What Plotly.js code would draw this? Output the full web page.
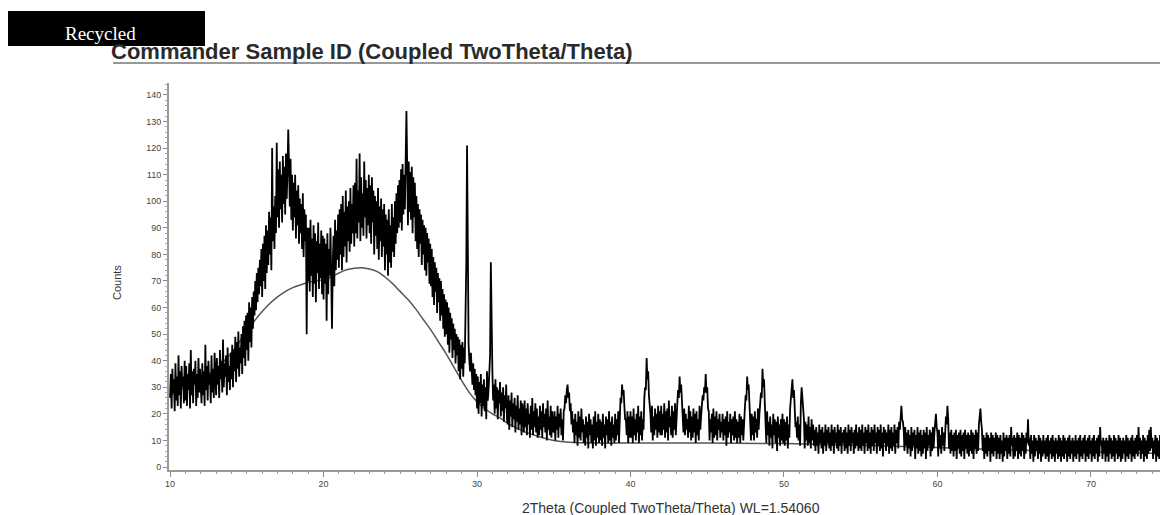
<!DOCTYPE html>
<html>
<head>
<meta charset="utf-8">
<script src="https://cdn.plot.ly/plotly-3.0.1.min.js"></script>
<style>html,body{margin:0;padding:0;background:#fff;}#chart{width:1160px;height:515px;}</style>
</head>
<body>
<div id="chart"></div>
<script>
// Scan settings (2Theta start and step of the measured pattern)
const twoThetaStart = 10;
const twoThetaStep = 0.05;

// Measured counts, one row per degree (10.00 ... 74.50, step 0.05)
const counts = [
  26,35,22,37,28,33,21,39,25,34,23,42,27,36,22,38,30,34,24,40,
  25,38,23,35,29,39,22,44,27,36,24,37,31,40,23,35,26,41,28,37,
  30,24,39,27,36,23,46,29,38,25,40,31,35,24,42,28,37,26,43,30,
  27,41,31,38,26,44,33,40,28,48,30,39,34,42,27,45,32,38,29,43,
  33,46,30,44,36,49,32,47,37,51,34,45,39,50,35,53,41,55,38,57,
  44,58,40,62,47,60,45,64,52,66,57,70,59,73,62,75,65,78,68,82,
  64,84,70,87,67,91,73,89,76,96,80,94,74,120,85,98,82,102,88,122,
  94,112,90,115,97,110,92,117,99,113,95,118,101,111,127,114,98,116,93,110,
  89,107,94,110,86,104,91,106,84,101,88,99,82,103,79,97,85,95,50,90,
  70,90,66,93,72,86,64,91,69,88,62,85,73,92,67,84,71,89,65,87,
  63,86,69,84,55,88,65,82,72,90,60,52,76,87,68,93,74,89,78,95,
  75,97,80,99,74,102,79,96,83,104,77,98,85,100,81,105,84,99,88,106,
  83,107,88,116,86,104,92,118,85,109,90,103,87,115,94,108,86,105,91,110,
  88,106,84,109,92,104,80,102,87,100,82,105,78,98,85,101,79,97,83,99,
  74,95,80,93,72,97,77,91,75,99,81,94,79,100,84,103,88,106,90,108,
  92,112,89,114,95,110,97,116,134,113,91,115,96,111,93,113,88,109,94,107,
  85,102,82,99,79,97,84,95,76,93,80,91,74,90,72,88,77,86,69,84,
  68,82,64,79,61,77,66,75,58,73,62,71,55,70,57,67,52,65,49,63,
  50,62,46,60,43,58,48,56,41,54,44,52,39,50,42,49,36,48,33,46,
  37,47,34,45,39,58,76,121,68,46,40,36,43,33,31,39,29,37,27,35,
  22,34,20,32,24,35,19,31,23,33,21,30,18,36,25,29,34,42,77,45,
  36,25,31,20,33,22,30,18,29,24,32,19,28,21,30,17,27,22,31,18,
  16,27,14,25,19,28,15,24,18,26,13,23,17,27,14,22,16,25,12,24,
  21,13,25,15,22,12,24,16,20,11,23,14,26,12,21,15,24,13,22,11,
  19,12,23,14,21,11,24,15,20,13,22,10,25,14,19,12,23,11,21,14,
  13,21,10,19,14,23,11,20,15,22,12,18,10,21,22,27,24,29,31,26,
  28,21,24,16,21,13,18,9,20,12,17,8,21,11,19,10,22,13,18,9,
  16,8,19,11,17,7,20,12,18,9,16,7,19,10,21,8,17,11,20,9,
  18,10,17,8,20,11,16,7,19,12,18,9,21,10,17,8,19,11,16,9,
  20,10,18,12,21,9,22,26,24,31,27,29,23,18,18,12,21,9,19,11,
  21,11,19,9,22,12,18,10,20,13,23,9,19,12,21,10,18,14,26,30,
  29,41,33,36,27,24,20,13,23,10,19,12,22,14,20,11,23,13,21,12,
  23,12,20,14,24,11,21,13,22,10,25,15,19,12,23,11,21,14,24,12,
  21,24,29,26,34,28,31,24,21,13,22,12,20,14,18,11,23,13,21,10,
  19,11,22,13,20,9,21,12,18,10,23,14,19,24,27,25,30,28,35,28,
  30,22,21,10,18,13,20,9,22,11,19,12,21,10,18,14,20,11,17,13,
  20,10,18,12,19,8,21,11,17,13,20,9,18,12,19,10,21,11,18,9,
  17,11,20,9,19,12,18,10,21,22,27,25,34,29,31,22,18,10,20,12,
  19,10,21,13,18,11,22,14,20,24,28,26,37,30,33,24,18,9,21,12,
  17,8,19,11,16,7,20,12,18,9,17,6,19,11,16,8,18,10,20,9,
  18,8,17,10,19,7,16,11,22,25,28,33,26,29,22,15,17,11,19,10,
  16,8,24,30,26,22,18,7,17,10,16,8,19,9,15,7,18,10,16,8,
  14,6,15,8,13,5,16,9,14,7,15,5,13,8,16,6,14,9,15,7,
  13,6,16,8,14,5,15,9,13,7,16,6,14,8,15,5,13,9,14,6,
  15,7,13,5,16,8,14,6,15,9,13,5,14,7,16,8,13,6,15,7,
  14,6,16,8,13,5,15,9,14,6,16,7,13,5,15,8,14,6,16,9,
  13,5,15,8,14,6,16,7,13,4,15,9,14,6,13,8,16,5,14,7,
  15,6,13,8,16,5,14,9,15,7,17,14,19,23,18,17,14,6,15,8,
  13,5,14,7,12,4,15,6,13,8,14,3,12,7,15,5,13,6,14,4,
  12,5,14,7,13,3,15,6,12,8,14,4,13,6,15,7,13,16,20,15,
  13,4,14,7,12,5,15,8,13,6,17,19,16,23,18,7,13,5,14,6,
  12,4,13,6,14,3,12,7,13,5,14,4,12,6,13,3,14,7,12,5,
  13,4,12,6,14,5,13,3,12,7,14,5,13,6,16,18,22,17,14,6,
  12,3,11,5,13,4,12,6,11,2,13,5,12,4,11,6,13,3,12,5,
  11,3,12,5,10,2,13,4,11,6,12,3,11,5,12,4,15,8,11,3,
  12,4,11,6,13,3,12,5,11,4,13,6,12,3,11,5,13,9,18,8,
  11,3,12,5,10,2,12,4,11,6,10,3,12,5,11,2,10,4,12,5,
  10,3,11,4,12,2,10,5,11,3,12,4,10,2,11,5,10,3,12,4,
  11,2,10,4,12,3,11,5,10,2,11,4,12,3,10,5,11,2,10,4,
  12,3,10,5,11,2,12,4,10,3,11,5,12,2,10,4,11,3,12,5,
  10,2,11,4,12,3,10,5,11,2,12,4,15,8,10,3,11,5,10,2,
  11,4,10,2,12,5,11,3,10,4,12,2,11,5,10,3,12,4,11,2,
  10,3,11,5,10,2,12,4,11,3,10,5,11,2,12,4,10,3,11,5,
  12,4,15,6,11,3,10,5,12,2,11,4,10,3,12,5,14,6,15,7,
  11,3,10,5,12,2,11,4,10,3,12
];

// Fitted amorphous background curve
const backgroundTwoTheta = [10,11,12,13,14,15,15.5,16,16.5,17,17.5,18,18.5,19,19.5,20,20.5,21,21.5,22,22.5,23,23.5,24,24.5,25,25.5,26,26.5,27,27.5,28,28.5,29,29.5,30,30.5,31,31.5,32,33,34,35,36,38,40,45,50,55,60,65,70,74.5];
const backgroundCounts   = [27,30,33,37,43,51,55,58.5,61.5,64,66,67.5,68.5,69.5,70,70.5,71.5,73,74.2,74.8,75,74.5,73.5,71.5,69,66,63,59.5,55.5,51.5,47,42.5,37.5,32.5,28,24.5,22,20,18.5,16.5,13.5,11.5,10,9.3,9,9,9,8.8,8.2,7.3,6.4,5.7,5.1];

// Axis ticks
const xTickValues = [10,20,30,40,50,60,70];
const yTickValues = [0,10,20,30,40,50,60,70,80,90,100,110,120,130,140];

const titleText = 'Commander Sample ID (Coupled TwoTheta/Theta)';
const xTitleText = '2Theta (Coupled TwoTheta/Theta) WL=1.54060';
const yTitleText = 'Counts';
const tagText = 'Recycled';

const traces = [
  {
    type: 'scatter', mode: 'lines',
    x: backgroundTwoTheta, y: backgroundCounts,
    line: {color: '#555', width: 1.5, shape: 'spline'},
    hoverinfo: 'skip'
  },
  {
    type: 'scatter', mode: 'lines',
    x0: twoThetaStart, dx: twoThetaStep, y: counts,
    line: {color: '#000', width: 1.8}
  }
];

// pixel helpers for page-level decorations (plot area: x 169..1160, y 83..470)
const L = 169, W = 991, B = 470, H = 387;
const px = v => (v - L) / W;
const py = v => (B - v) / H;

const layout = {
  width: 1160, height: 515,
  margin: {l: L, r: 0, t: 83, b: 45, pad: 0},
  paper_bgcolor: '#fff', plot_bgcolor: '#fff',
  showlegend: false,
  font: {family: 'Liberation Sans, Arial, sans-serif', color: '#333'},
  title: {
    text: '<b>' + titleText + '</b>',
    font: {family: 'Liberation Sans, Arial, sans-serif', size: 22, color: '#2a2a2a'},
    xref: 'container', yref: 'container',
    x: 111 / 1160, xanchor: 'left',
    y: 1 - 51 / 515, yanchor: 'middle'
  },
  xaxis: {
    range: [9.93, 74.5],
    tickmode: 'array', tickvals: xTickValues,
    ticks: 'outside', ticklen: 5, tickwidth: 1, tickcolor: '#888',
    showline: true, linecolor: '#999', linewidth: 1.5,
    showgrid: false, zeroline: false,
    tickfont: {size: 9, color: '#444'},
    minor: {tick0: 10, dtick: 1, ticks: 'outside', ticklen: 2.5, tickcolor: '#999', showgrid: false}
  },
  yaxis: {
    range: [-1.13, 144.5],
    tickmode: 'array', tickvals: yTickValues,
    ticks: 'outside', ticklen: 4, tickwidth: 1, tickcolor: '#888',
    showline: true, linecolor: '#999', linewidth: 2,
    showgrid: false, zeroline: false,
    tickfont: {size: 9, color: '#444'},
    minor: {tick0: 0, dtick: 2, ticks: 'outside', ticklen: 2, tickcolor: '#aaa', showgrid: false}
  },
  shapes: [
    {type: 'line', xref: 'paper', yref: 'paper', x0: px(113), x1: 1, y0: py(63), y1: py(63),
     line: {color: '#999', width: 2}},
    {type: 'rect', xref: 'paper', yref: 'paper', layer: 'above',
     x0: px(8), x1: px(205), y0: py(46), y1: py(11),
     fillcolor: '#000', line: {width: 0}}
  ],
  annotations: [
    {text: tagText, xref: 'paper', yref: 'paper', x: px(100), y: py(34),
     xanchor: 'center', yanchor: 'middle', showarrow: false,
     font: {family: 'Liberation Serif, Times New Roman, serif', size: 19, color: '#fff'}},
    {text: yTitleText, xref: 'paper', yref: 'paper', x: px(117), y: py(283),
     xanchor: 'center', yanchor: 'middle', showarrow: false, textangle: -90,
     font: {size: 11, color: '#333'}},
    {text: xTitleText, xref: 'paper', yref: 'paper', x: px(671), y: py(508),
     xanchor: 'center', yanchor: 'middle', showarrow: false,
     font: {size: 14, color: '#333'}}
  ]
};

Plotly.newPlot('chart', traces, layout, {staticPlot: true, displayModeBar: false});
</script>
</body>
</html>
